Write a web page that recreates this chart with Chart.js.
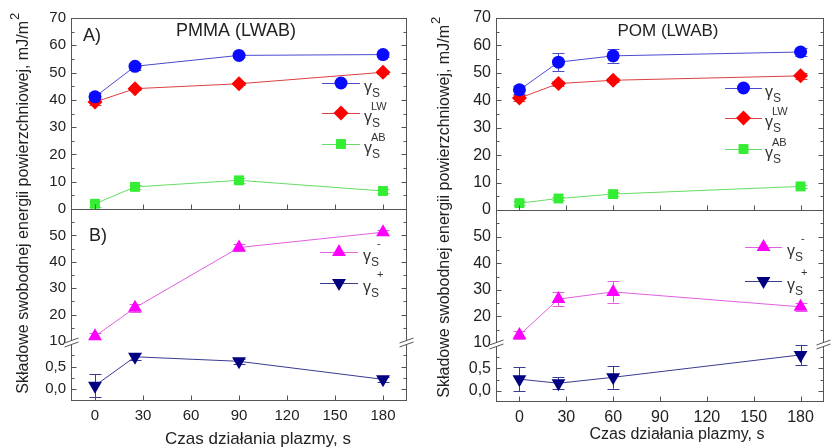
<!DOCTYPE html>
<html>
<head>
<meta charset="utf-8">
<script src="https://cdn.jsdelivr.net/npm/chart.js@4.4.1/dist/chart.umd.min.js"></script>
<style>
  body { margin: 0; background: #fff; width: 832px; height: 447px; overflow: hidden; position: relative; }
  .box { position: absolute; top: 0; height: 447px; }
</style>
</head>
<body>
<div class="box" style="left:0;width:415px"><canvas id="pmma"></canvas></div>
<div class="box" style="left:415px;width:417px"><canvas id="pom"></canvas></div>
<script>
// PMMA (LWAB)
var pmmaTime = [0, 25, 90, 180];
var pmmaGammaS = [41.1, 52.3, 56.3, 56.6];
var pmmaGammaSErr = [1.5, 1.2, 0.6, 0.8];
var pmmaGammaLW = [39.2, 44.1, 45.9, 50.1];
var pmmaGammaLWErr = [1.0, 0.6, 0.6, 0.6];
var pmmaGammaAB = [1.9, 8.1, 10.5, 6.6];
var pmmaGammaABErr = [1.0, 0.8, 0.8, 0.8];
var pmmaGammaMinus = [11.8, 22.6, 45.4, 51.2];
var pmmaGammaMinusErr = [1.2, 1.5, 1.2, 1.0];
var pmmaGammaPlus = [0.08, 0.72, 0.62, 0.22];
var pmmaGammaPlusErr = [0.25, 0.08, 0.05, 0.05];

// POM (LWAB)
var pomTime = [0, 25, 60, 180];
var pomGammaS = [43.8, 53.9, 56.2, 57.6];
var pomGammaSErr = [1.5, 3.2, 2.5, 1.5];
var pomGammaLW = [40.8, 46.1, 47.3, 48.9];
var pomGammaLWErr = [1.2, 1.0, 0.8, 1.0];
var pomGammaAB = [2.5, 4.2, 5.8, 8.6];
var pomGammaABErr = [0.6, 0.6, 0.6, 0.6];
var pomGammaMinus = [13.0, 26.5, 29.2, 23.6];
var pomGammaMinusErr = [1.5, 2.7, 4.0, 1.5];
var pomGammaPlus = [0.26, 0.17, 0.3, 0.79];
var pomGammaPlusErr = [0.26, 0.13, 0.25, 0.22];

var xTicks = [0, 30, 60, 90, 120, 150, 180];
var topTicks = [0, 10, 20, 30, 40, 50, 60, 70];
var midTicks = [10, 20, 30, 40, 50];
var lowTicks = [0, 0.5];

var FONT = '"Liberation Sans", Arial, sans-serif';
var AXIS = '#555';

function pts(xs, ys) {
  return xs.map(function (x, i) { return {x: x, y: ys[i]}; });
}

function line(ctx, x1, y1, x2, y2) {
  ctx.beginPath(); ctx.moveTo(x1, y1); ctx.lineTo(x2, y2); ctx.stroke();
}

function marker(ctx, style, x, y, r, color) {
  ctx.save();
  ctx.fillStyle = color;
  ctx.beginPath();
  if (style == 'circle') {
    ctx.arc(x, y, r, 0, Math.PI * 2);
  } else if (style == 'rectRot') {
    ctx.moveTo(x, y - r); ctx.lineTo(x + r, y); ctx.lineTo(x, y + r); ctx.lineTo(x - r, y);
  } else if (style == 'rect') {
    var s = r * Math.SQRT1_2;
    ctx.rect(x - s, y - s, 2 * s, 2 * s);
  } else if (style == 'up') {
    ctx.moveTo(x, y - r); ctx.lineTo(x + r * 0.866, y + r / 2); ctx.lineTo(x - r * 0.866, y + r / 2);
  } else {
    ctx.moveTo(x, y + r); ctx.lineTo(x + r * 0.866, y - r / 2); ctx.lineTo(x - r * 0.866, y - r / 2);
  }
  ctx.closePath();
  ctx.fill();
  ctx.restore();
}

var series = {
  s:     {line: '#4a4ad0', mark: '#0a0aff', style: 'circle', r: 6.5, sup: ''},
  lw:    {line: '#dd4040', mark: '#ff0000', style: 'rectRot', r: 7.5, sup: 'LW'},
  ab:    {line: '#66dd66', mark: '#33ee33', style: 'rect', r: 7, sup: 'AB'},
  minus: {line: '#e060e0', mark: '#ff00ff', style: 'up', r: 8, sup: '-'},
  plus:  {line: '#3a3a90', mark: '#000080', style: 'down', r: 8, sup: '+'}
};

function dataset(key, xs, ys, axis) {
  var s = series[key];
  return {
    data: pts(xs, ys),
    yAxisID: axis,
    borderColor: s.line,
    borderWidth: 1,
    pointStyle: s.style == 'up' || s.style == 'down' ? 'triangle' : s.style,
    pointRotation: s.style == 'down' ? 180 : 0,
    pointRadius: s.r,
    pointBackgroundColor: s.mark,
    pointBorderColor: s.mark,
    pointBorderWidth: 0,
    fill: false
  };
}

function legendItem(ctx, key, x1, x2, y, tx) {
  var s = series[key];
  ctx.strokeStyle = s.line;
  ctx.lineWidth = 1;
  line(ctx, x1, y + 0.5, x2, y + 0.5);
  marker(ctx, s.style, (x1 + x2) / 2, y, s.r, s.mark);
  ctx.fillStyle = '#333';
  ctx.textAlign = 'left';
  ctx.textBaseline = 'alphabetic';
  ctx.font = '16px ' + FONT;
  ctx.fillText('γ', tx, y + 9);
  ctx.font = '12px ' + FONT;
  ctx.fillText('S', tx + 8, y + 14);
  ctx.font = '11px ' + FONT;
  if (s.sup == 'LW' || s.sup == 'AB') ctx.fillText(s.sup, tx + 7, y - 3);
  else if (s.sup) ctx.fillText(s.sup, tx + 14, y - 5);
}

function makeDecor(p) {
  return {
    id: 'decor',
    beforeDatasetsDraw: function (chart) {
      var ctx = chart.ctx;
      ctx.save();
      chart.data.datasets.forEach(function (ds, i) {
        var meta = chart.getDatasetMeta(i);
        var sc = chart.scales[ds.yAxisID];
        var err = p.errs[i];
        ctx.strokeStyle = ds.borderColor;
        ctx.lineWidth = 1;
        meta.data.forEach(function (el, j) {
          var v = ds.data[j].y;
          var ya = sc.getPixelForValue(v + err[j]);
          var yb = sc.getPixelForValue(v - err[j]);
          var x = Math.round(el.x) + 0.5;
          line(ctx, x, ya, x, yb);
          line(ctx, x - 6, Math.round(ya) + 0.5, x + 6, Math.round(ya) + 0.5);
          line(ctx, x - 6, Math.round(yb) + 0.5, x + 6, Math.round(yb) + 0.5);
        });
      });
      ctx.restore();
    },
    afterDraw: function (chart) {
      var ctx = chart.ctx;
      var a = chart.chartArea;
      var sx = chart.scales.x, yA = chart.scales.yA, yB = chart.scales.yB, yC = chart.scales.yC;
      ctx.save();
      ctx.strokeStyle = AXIS;
      ctx.lineWidth = 1;
      var L = a.left + 0.5, R = a.right - 0.5, T = a.top + 0.5, B = a.bottom - 0.5;
      var mid = Math.round(yA.bottom) + 0.5;
      ctx.strokeRect(L, T, R - L, B - T);
      line(ctx, L, mid, R, mid);
      // inward ticks
      xTicks.forEach(function (v) {
        var x = Math.round(sx.getPixelForValue(v)) + 0.5;
        line(ctx, x, B, x, B - 5);
        line(ctx, x, mid, x, mid - 5);
      });
      function vt(sc, vals, len) {
        vals.forEach(function (v) {
          var y = Math.round(sc.getPixelForValue(v)) + 0.5;
          line(ctx, L, y, L + len, y);
          line(ctx, R, y, R - len, y);
        });
      }
      vt(yA, [10, 20, 30, 40, 50, 60], 5);
      vt(yA, [5, 15, 25, 35, 45, 55, 65], 3);
      vt(yB, [20, 30, 40, 50], 5);
      vt(yB, [15, 25, 35, 45, 55], 3);
      vt(yC, [0, 0.5], 5);
      vt(yC, [0.25, 0.75], 3);
      // axis breaks
      var by = Math.round(yC.top);
      [L, R].forEach(function (x) {
        ctx.fillStyle = '#fff';
        ctx.beginPath();
        ctx.moveTo(x - 7, by + 2); ctx.lineTo(x + 7, by - 3);
        ctx.lineTo(x + 7, by + 1); ctx.lineTo(x - 7, by + 6);
        ctx.closePath(); ctx.fill();
        line(ctx, x - 7, by + 2, x + 7, by - 3);
        line(ctx, x - 7, by + 6, x + 7, by + 1);
      });
      // legends
      p.legendTop.keys.forEach(function (k, i) {
        legendItem(ctx, k, p.legendTop.x1, p.legendTop.x2, p.legendTop.rows[i], p.legendTop.tx);
      });
      p.legendLow.keys.forEach(function (k, i) {
        legendItem(ctx, k, p.legendLow.x1, p.legendLow.x2, p.legendLow.rows[i], p.legendLow.tx);
      });
      // texts
      ctx.fillStyle = '#222';
      ctx.textBaseline = 'alphabetic';
      ctx.textAlign = 'center';
      ctx.font = p.titleFont + 'px ' + FONT;
      ctx.fillText(p.title, p.titleX, p.titleY);
      ctx.font = p.xFont + 'px ' + FONT;
      ctx.fillText('Czas działania plazmy, s', p.xTitleX, p.xTitleY);
      if (p.tagA) {
        ctx.textAlign = 'left';
        ctx.font = '18px ' + FONT;
        ctx.fillText('A)', 83, 41);
        ctx.fillText('B)', 89, 241);
      }
      // rotated y title
      ctx.save();
      ctx.translate(p.yTitleX, p.yTitleY);
      ctx.rotate(-Math.PI / 2);
      ctx.font = '16px ' + FONT;
      var main = 'Składowe swobodnej energii powierzchniowej, mJ/m';
      var w1 = ctx.measureText(main).width;
      ctx.font = '12px ' + FONT;
      var w2 = ctx.measureText('2').width;
      var x0 = -(w1 + w2) / 2;
      ctx.textAlign = 'left';
      ctx.textBaseline = 'middle';
      ctx.font = '16px ' + FONT;
      ctx.fillText(main, x0, 0);
      ctx.font = '13px ' + FONT;
      ctx.fillText('2', x0 + w1 + 1, -9);
      ctx.restore();
      ctx.restore();
    }
  };
}

function intFmt(v) { return String(v); }
function commaFmt(v) { return v.toFixed(1).replace('.', ','); }

function makeChart(id, p, datasets) {
  var tickFont = {family: FONT, size: p.tickSize};
  function yAxis(min, max, weight, ticks, fmt) {
    return {
      type: 'linear', position: 'left', stack: 'v', stackWeight: weight,
      min: min, max: max,
      grid: {display: false, drawTicks: false}, border: {display: false},
      ticks: {font: tickFont, color: '#222', padding: 5, autoSkip: false, callback: fmt},
      afterBuildTicks: function (s) { s.ticks = ticks.map(function (v) { return {value: v}; }); },
      afterFit: function (s) { s.width = p.axisW; }
    };
  }
  new Chart(document.getElementById(id), {
    type: 'line',
    data: {datasets: datasets},
    options: {
      responsive: true,
      maintainAspectRatio: false,
      animation: false,
      events: [],
      layout: {padding: {left: 0, right: p.padRight, top: 18, bottom: 0}},
      plugins: {legend: {display: false}, tooltip: {enabled: false}},
      scales: {
        x: {
          type: 'linear', position: 'bottom', min: -15, max: 195,
          grid: {display: false, drawTicks: false}, border: {display: false},
          ticks: {font: tickFont, color: '#222', padding: 6, autoSkip: false, maxRotation: 0},
          afterBuildTicks: function (s) { s.ticks = xTicks.map(function (v) { return {value: v}; }); },
          afterFit: function (s) { s.height = p.xAxisH; }
        },
        yC: yAxis(p.lowMin, p.lowMax, p.wC, lowTicks, commaFmt),
        yB: yAxis(10, 60, p.wB, midTicks, intFmt),
        yA: yAxis(0, 70, p.wA, topTicks, intFmt)
      }
    },
    plugins: [makeDecor(p)]
  });
}

makeChart('pmma', {
  title: 'PMMA (LWAB)', titleX: 236, titleY: 36, titleFont: 18, tagA: true,
  xTitleX: 258, xTitleY: 444, xFont: 17,
  yTitleX: 24, yTitleY: 204,
  tickSize: 15, axisW: 71, padRight: 8, xAxisH: 46,
  wA: 191, wB: 132, wC: 60, lowMin: -0.26, lowMax: 1.07,
  errs: [pmmaGammaSErr, pmmaGammaLWErr, pmmaGammaABErr, pmmaGammaMinusErr, pmmaGammaPlusErr],
  legendTop: {keys: ['s', 'lw', 'ab'], x1: 322, x2: 360, tx: 364, rows: [83, 113, 144]},
  legendLow: {keys: ['minus', 'plus'], x1: 320, x2: 358, tx: 363, rows: [252, 283]}
}, [
  dataset('s', pmmaTime, pmmaGammaS, 'yA'),
  dataset('lw', pmmaTime, pmmaGammaLW, 'yA'),
  dataset('ab', pmmaTime, pmmaGammaAB, 'yA'),
  dataset('minus', pmmaTime, pmmaGammaMinus, 'yB'),
  dataset('plus', pmmaTime, pmmaGammaPlus, 'yC')
]);

makeChart('pom', {
  title: 'POM (LWAB)', titleX: 253, titleY: 36, titleFont: 17, tagA: false,
  xTitleX: 262, xTitleY: 439, xFont: 16,
  yTitleX: 30, yTitleY: 208,
  tickSize: 16, axisW: 81, padRight: 1, xAxisH: 45,
  wA: 192, wB: 133, wC: 59, lowMin: -0.24, lowMax: 1.05,
  errs: [pomGammaSErr, pomGammaLWErr, pomGammaABErr, pomGammaMinusErr, pomGammaPlusErr],
  legendTop: {keys: ['s', 'lw', 'ab'], x1: 310, x2: 347, tx: 350, rows: [88, 118, 149]},
  legendLow: {keys: ['minus', 'plus'], x1: 330, x2: 367, tx: 372, rows: [247, 281]}
}, [
  dataset('s', pomTime, pomGammaS, 'yA'),
  dataset('lw', pomTime, pomGammaLW, 'yA'),
  dataset('ab', pomTime, pomGammaAB, 'yA'),
  dataset('minus', pomTime, pomGammaMinus, 'yB'),
  dataset('plus', pomTime, pomGammaPlus, 'yC')
]);
</script>
</body>
</html>
